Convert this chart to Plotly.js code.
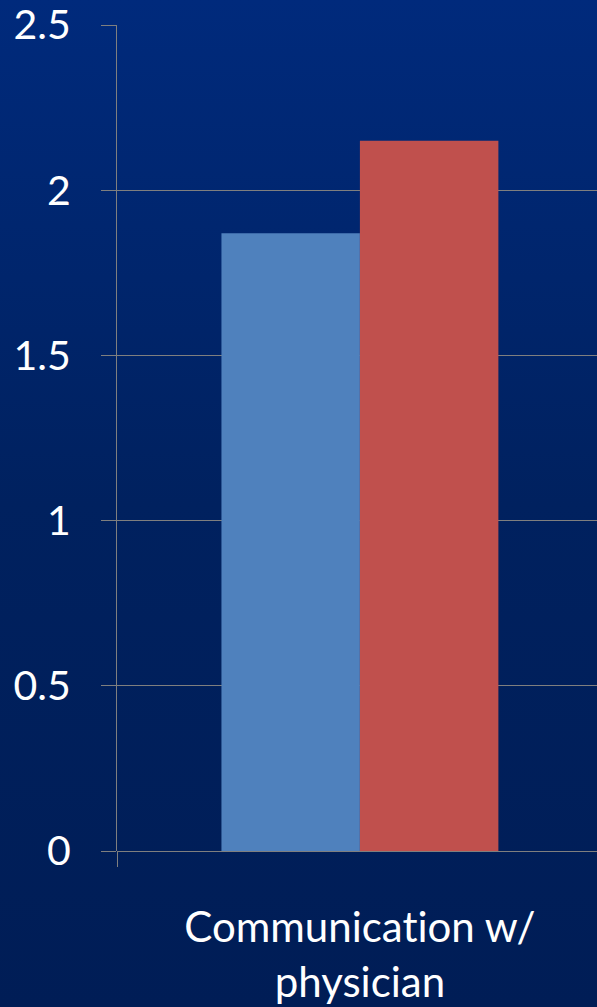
<!DOCTYPE html>
<html>
<head>
<meta charset="utf-8">
<script src="https://cdn.plot.ly/plotly-3.0.1.min.js"></script>
<style>
  html, body { margin: 0; padding: 0; }
  body { background: linear-gradient(to bottom, #002a7c 0%, #00215f 50%, #001d56 100%); }
  #chart { width: 597px; height: 1007px; }
  #chart text, #chart tspan { font-variant-ligatures: none !important; font-feature-settings: "liga" 0, "clig" 0 !important; }
</style>
</head>
<body>
<div id="chart"></div>
<script>
// one category, two series (no legend in the source)
var categories = ["Communication w/<br>physician"];
var seriesA = [1.87];
var seriesB = [2.15];
var yTicks = [0, 0.5, 1, 1.5, 2, 2.5];
var yTickText = ["0", "0.5", "1", "1.5", "2", "2.5"];

var traceA = {
  x: categories,
  y: seriesA,
  type: "bar",
  marker: {color: "#4f81bd"},
  hoverinfo: "y"
};
var traceB = {
  x: categories,
  y: seriesB,
  type: "bar",
  marker: {color: "#c0504d"},
  hoverinfo: "y"
};

var layout = {
  width: 597,
  height: 1007,
  margin: {l: 117, r: 0, t: 25, b: 156},
  paper_bgcolor: "rgba(0,0,0,0)",
  plot_bgcolor: "rgba(0,0,0,0)",
  showlegend: false,
  barmode: "group",
  bargap: 0.43,
  bargroupgap: 0,
  font: {family: "Lato, 'Open Sans', sans-serif", color: "#ffffff"},
  xaxis: {
    type: "category",
    range: [-0.5, 0.488],
    tickson: "boundaries",
    ticks: "outside",
    ticklen: 15,
    tickcolor: "#7f7f7f",
    showline: false,
    showgrid: false,
    zeroline: false,
    tickfont: {size: 42, color: "#ffffff"},
    ticklabelstandoff: 48,
    ticklabeloverflow: "allow"
  },
  yaxis: {
    range: [0, 2.5],
    tickvals: yTicks,
    ticktext: yTickText,
    ticks: "outside",
    ticklen: 15,
    tickcolor: "#7f7f7f",
    showline: true,
    linecolor: "#7f7f7f",
    linewidth: 1,
    showgrid: true,
    gridcolor: "#7f7f7f",
    gridwidth: 1,
    zeroline: true,
    zerolinecolor: "#7f7f7f",
    zerolinewidth: 1,
    tickfont: {size: 41, color: "#ffffff"},
    ticklabelstandoff: 22,
    ticklabeloverflow: "allow"
  }
};

Plotly.newPlot("chart", [traceA, traceB], layout, {displayModeBar: false, staticPlot: true});
</script>
</body>
</html>
